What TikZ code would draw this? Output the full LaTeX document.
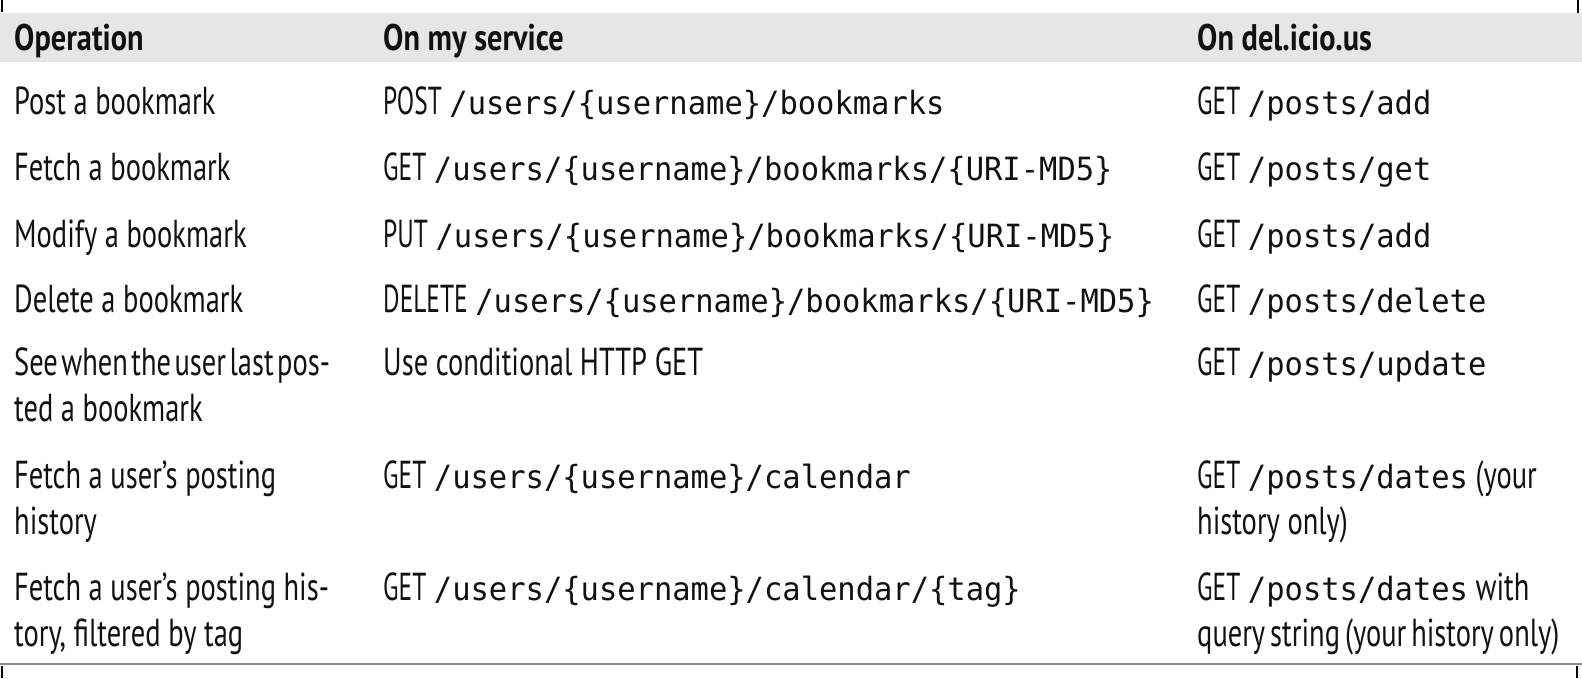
\documentclass[tikz,border=0pt]{standalone}
\usepackage{fontspec}
\setmainfont{PT Sans}[FakeStretch=0.73, BoldFeatures={FakeStretch=0.82}]
\newfontfamily\methfam{PT Sans}[FakeStretch=0.65]
\newfontfamily\monofam{DejaVu Sans Mono}[FakeStretch=0.952]
\newcommand\cd[1]{{\monofam\fontsize{32pt}{46pt}\selectfont #1}}
\newcommand\meth[1]{{\methfam #1}}
\definecolor{hdrgrey}{HTML}{E6E6E6}
\definecolor{rulegrey}{HTML}{8C8C8C}
\definecolor{ink}{HTML}{111111}
\tikzset{
  cell/.style={anchor=base west, inner sep=0pt, text=ink, font=\fontsize{39pt}{46pt}\selectfont},
  hcell/.style={cell, font=\fontsize{37pt}{46pt}\selectfont\bfseries},
  crop/.style={draw=black, line width=1.4pt},
}
\newcommand\two[2]{\parbox[t]{420pt}{#1\\#2}}
\begin{document}
\begin{tikzpicture}[x=1pt,y=-1pt]
\useasboundingbox (0,0) rectangle (1582,678);
% header band
\fill[hdrgrey] (0,13) rectangle (1582,62);
% bottom rule
\coordinate (rl) at (0,664);
\coordinate (rr) at (1582,664);
\draw[rulegrey, line width=1.5pt] (rl) -- (rr);
% crop marks
\coordinate (tl1) at (2,0); \coordinate (tl2) at (2,12);
\coordinate (tr1) at (1578,0); \coordinate (tr2) at (1578,13);
\coordinate (bl1) at (2,666); \coordinate (bl2) at (2,678);
\coordinate (br1) at (1577,666); \coordinate (br2) at (1577,678);
\draw[crop] (tl1) -- (tl2);
\draw[crop] (tr1) -- (tr2);
\draw[crop] (bl1) -- (bl2);
\draw[crop] (br1) -- (br2);
% header
\node[hcell] (h1) at (14,50) {Operation};
\node[hcell] (h2) at (383,50) {On my service};
\node[hcell] (h3) at (1197,50) {On del.icio.us};
% row 1
\node[cell] (a1) at (14,114) {Post a bookmark};
\node[cell] (b1) at (383,114) {\meth{POST} \cd{/users/\{username\}/bookmarks}};
\node[cell] (c1) at (1197,114) {\meth{GET} \cd{/posts/add}};
% row 2
\node[cell] (a2) at (14,180) {Fetch a bookmark};
\node[cell] (b2) at (383,180) {\meth{GET} \cd{/users/\{username\}/bookmarks/\{URI-MD5\}}};
\node[cell] (c2) at (1197,180) {\meth{GET} \cd{/posts/get}};
% row 3
\node[cell] (a3) at (14,247) {Modify a bookmark};
\node[cell] (b3) at (383,247) {\meth{PUT} \cd{/users/\{username\}/bookmarks/\{URI-MD5\}}};
\node[cell] (c3) at (1197,247) {\meth{GET} \cd{/posts/add}};
% row 4
\node[cell] (a4) at (14,312) {Delete a bookmark};
\node[cell] (b4) at (383,312) {\meth{DELETE} \cd{/users/\{username\}/bookmarks/\{URI-MD5\}}};
\node[cell] (c4) at (1197,312) {\meth{GET} \cd{/posts/delete}};
% row 5
\node[cell] (a5) at (14,375) {\two{{\spaceskip=3.5pt See when the user last pos-}}{ted a bookmark}};
\node[cell] (b5) at (383,375) {Use conditional HTTP GET};
\node[cell] (c5) at (1197,375) {\meth{GET} \cd{/posts/update}};
% row 6
\node[cell] (a6) at (14,488) {\two{Fetch a user’s posting}{history}};
\node[cell] (b6) at (383,488) {\meth{GET} \cd{/users/\{username\}/calendar}};
\node[cell] (c6) at (1197,488) {\two{\meth{GET} \cd{/posts/dates} (your}{history only)}};
% row 7
\node[cell] (a7) at (14,600) {\two{Fetch a user’s posting his-}{tory, filtered by tag}};
\node[cell] (b7) at (383,600) {\meth{GET} \cd{/users/\{username\}/calendar/\{tag\}}};
\node[cell] (c7) at (1197,600) {\two{\meth{GET} \cd{/posts/dates} with}{{\spaceskip=5pt query string (your history only)}}};
\end{tikzpicture}
\end{document}
